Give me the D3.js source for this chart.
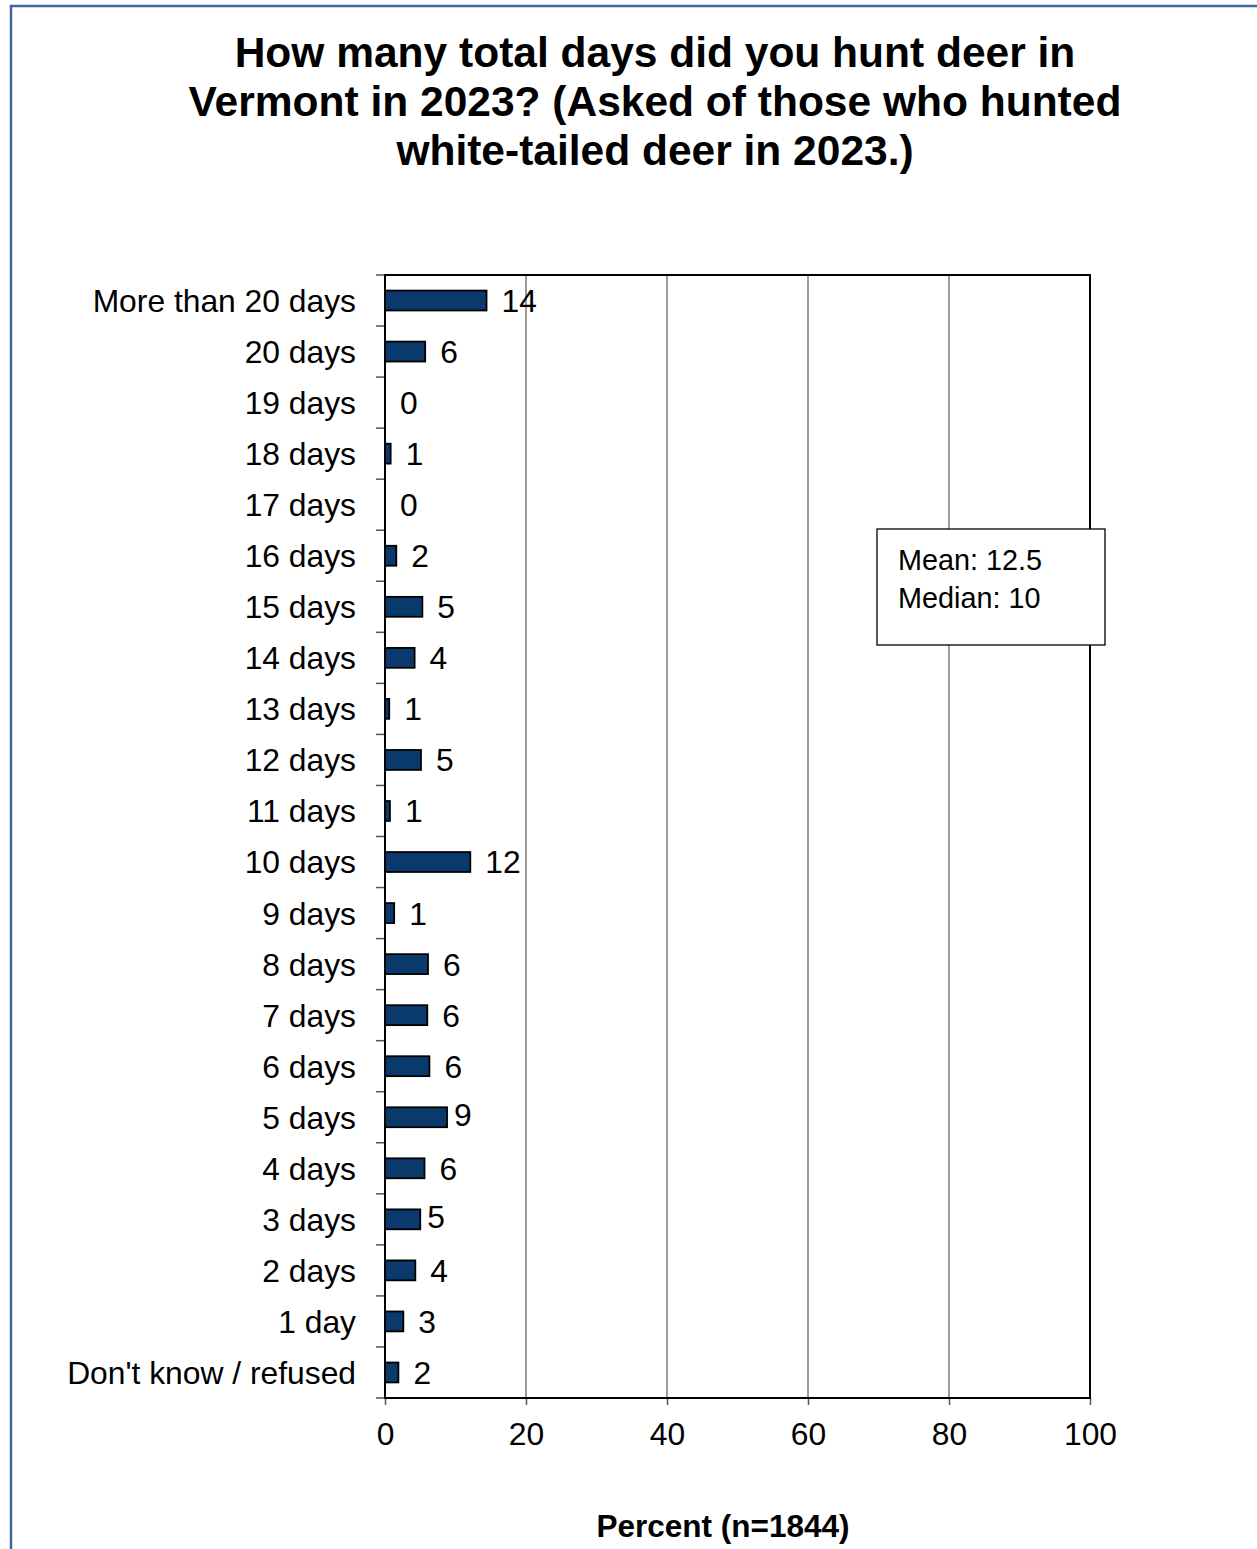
<!DOCTYPE html>
<html>
<head>
<meta charset="utf-8">
<script src="https://cdn.jsdelivr.net/npm/d3@7"></script>
<style>
  html, body { margin: 0; padding: 0; background: #ffffff; }
  svg { display: block; }
  text { font-family: "Liberation Sans", Arial, sans-serif; fill: #000; }
</style>
</head>
<body>
<svg id="chart" width="1257" height="1549"></svg>
<script>
// Survey responses: total days hunting white-tailed deer in Vermont, 2023
const titleLines = [
  "How many total days did you hunt deer in",
  "Vermont in 2023? (Asked of those who hunted",
  "white-tailed deer in 2023.)"
];
const categories = [
  "More than 20 days", "20 days", "19 days", "18 days", "17 days",
  "16 days", "15 days", "14 days", "13 days", "12 days", "11 days",
  "10 days", "9 days", "8 days", "7 days", "6 days", "5 days",
  "4 days", "3 days", "2 days", "1 day", "Don't know / refused"
];
const percents = [
  14.4, 5.7, 0, 0.8, 0, 1.6, 5.3, 4.2, 0.6, 5.1, 0.7,
  12.1, 1.3, 6.1, 6.0, 6.3, 8.8, 5.6, 5.0, 4.3, 2.6, 1.9
];
const xTicks = [0, 20, 40, 60, 80, 100];
const xTitle = "Percent (n=1844)";
const summaryLines = ["Mean: 12.5", "Median: 10"];

// Layout
const plot = { left: 385, right: 1090, top: 275, bottom: 1398 };
const labelFont = 31.8;
const barColor = "#0a3a6c";
// Value labels that sit closer to their bars
const tightLabels = new Set(["5 days", "3 days"]);

const svg = d3.select("#chart");

// Page frame
svg.append("path")
  .attr("d", "M11,1549 V6 H1257")
  .attr("fill", "none")
  .attr("stroke", "#41689a")
  .attr("stroke-width", 2.5);

// Title
svg.append("g")
  .selectAll("text")
  .data(titleLines)
  .join("text")
  .attr("x", 655)
  .attr("y", (d, i) => 67 + i * 49)
  .attr("text-anchor", "middle")
  .attr("font-size", 42.5)
  .attr("font-weight", "bold")
  .text(d => d);

const x = d3.scaleLinear().domain([0, 100]).range([plot.left, plot.right]);
const y = d3.scaleBand()
  .domain(categories)
  .range([plot.top, plot.bottom])
  .paddingInner(0.61)
  .paddingOuter(0.305);

// Vertical gridlines
svg.append("g")
  .selectAll("line")
  .data(xTicks.filter(t => t > 0 && t < 100))
  .join("line")
  .attr("x1", d => x(d)).attr("x2", d => x(d))
  .attr("y1", plot.top).attr("y2", plot.bottom)
  .attr("stroke", "#4a4a4a")
  .attr("stroke-width", 1.1);

// Category boundary ticks on the left axis
const boundaries = categories.map(c => y(c) + y.bandwidth() / 2 - y.step() / 2);
boundaries.push(plot.bottom);
svg.append("g")
  .selectAll("line")
  .data(boundaries)
  .join("line")
  .attr("x1", plot.left - 9).attr("x2", plot.left)
  .attr("y1", d => d).attr("y2", d => d)
  .attr("stroke", "#555")
  .attr("stroke-width", 1.5);

// X axis ticks and labels
const xAxis = d3.axisBottom(x)
  .tickValues(xTicks)
  .tickSize(7)
  .tickPadding(17)
  .tickFormat(d3.format("d"));
const gx = svg.append("g")
  .attr("transform", `translate(0,${plot.bottom})`)
  .call(xAxis);
gx.select(".domain").remove();
gx.selectAll(".tick line").attr("stroke", "#555").attr("stroke-width", 1.5);
gx.selectAll(".tick text")
  .attr("font-size", labelFont)
  .attr("font-family", "'Liberation Sans', Arial, sans-serif")
  .attr("fill", "#000");

// Plot frame
svg.append("rect")
  .attr("x", plot.left).attr("y", plot.top)
  .attr("width", plot.right - plot.left)
  .attr("height", plot.bottom - plot.top)
  .attr("fill", "none")
  .attr("stroke", "#000")
  .attr("stroke-width", 2);

// Category labels
svg.append("g")
  .selectAll("text")
  .data(categories)
  .join("text")
  .attr("x", 356)
  .attr("y", d => y(d) + y.bandwidth() / 2)
  .attr("dy", "0.36em")
  .attr("text-anchor", "end")
  .attr("font-size", labelFont)
  .text(d => d);

// Bars
const rows = categories.map((c, i) => ({ cat: c, value: percents[i] }));
svg.append("g")
  .selectAll("rect")
  .data(rows)
  .join("rect")
  .attr("x", x(0))
  .attr("y", d => y(d.cat))
  .attr("width", d => x(d.value) - x(0))
  .attr("height", y.bandwidth())
  .attr("fill", barColor)
  .attr("stroke", "#000")
  .attr("stroke-width", 1.8);

// Value labels
svg.append("g")
  .selectAll("text")
  .data(rows)
  .join("text")
  .attr("x", d => x(d.value) + (tightLabels.has(d.cat) ? 7 : 15))
  .attr("y", d => y(d.cat) + y.bandwidth() / 2)
  .attr("dy", d => tightLabels.has(d.cat) ? "0.28em" : "0.36em")
  .attr("font-size", labelFont)
  .text(d => d3.format(".0f")(d.value));

// Summary statistics box
const box = svg.append("g");
box.append("rect")
  .attr("x", 877).attr("y", 529)
  .attr("width", 228).attr("height", 116)
  .attr("fill", "#fff")
  .attr("stroke", "#000")
  .attr("stroke-width", 1.3);
box.selectAll("text")
  .data(summaryLines)
  .join("text")
  .attr("x", 898)
  .attr("y", (d, i) => 570 + i * 38)
  .attr("font-family", "Carlito, Calibri, Lato, sans-serif")
  .attr("font-size", 28.8)
  .text(d => d);

// X axis title
svg.append("text")
  .attr("x", 723)
  .attr("y", 1537)
  .attr("text-anchor", "middle")
  .attr("font-size", 31.5)
  .attr("font-weight", "bold")
  .text(xTitle);
</script>
</body>
</html>
